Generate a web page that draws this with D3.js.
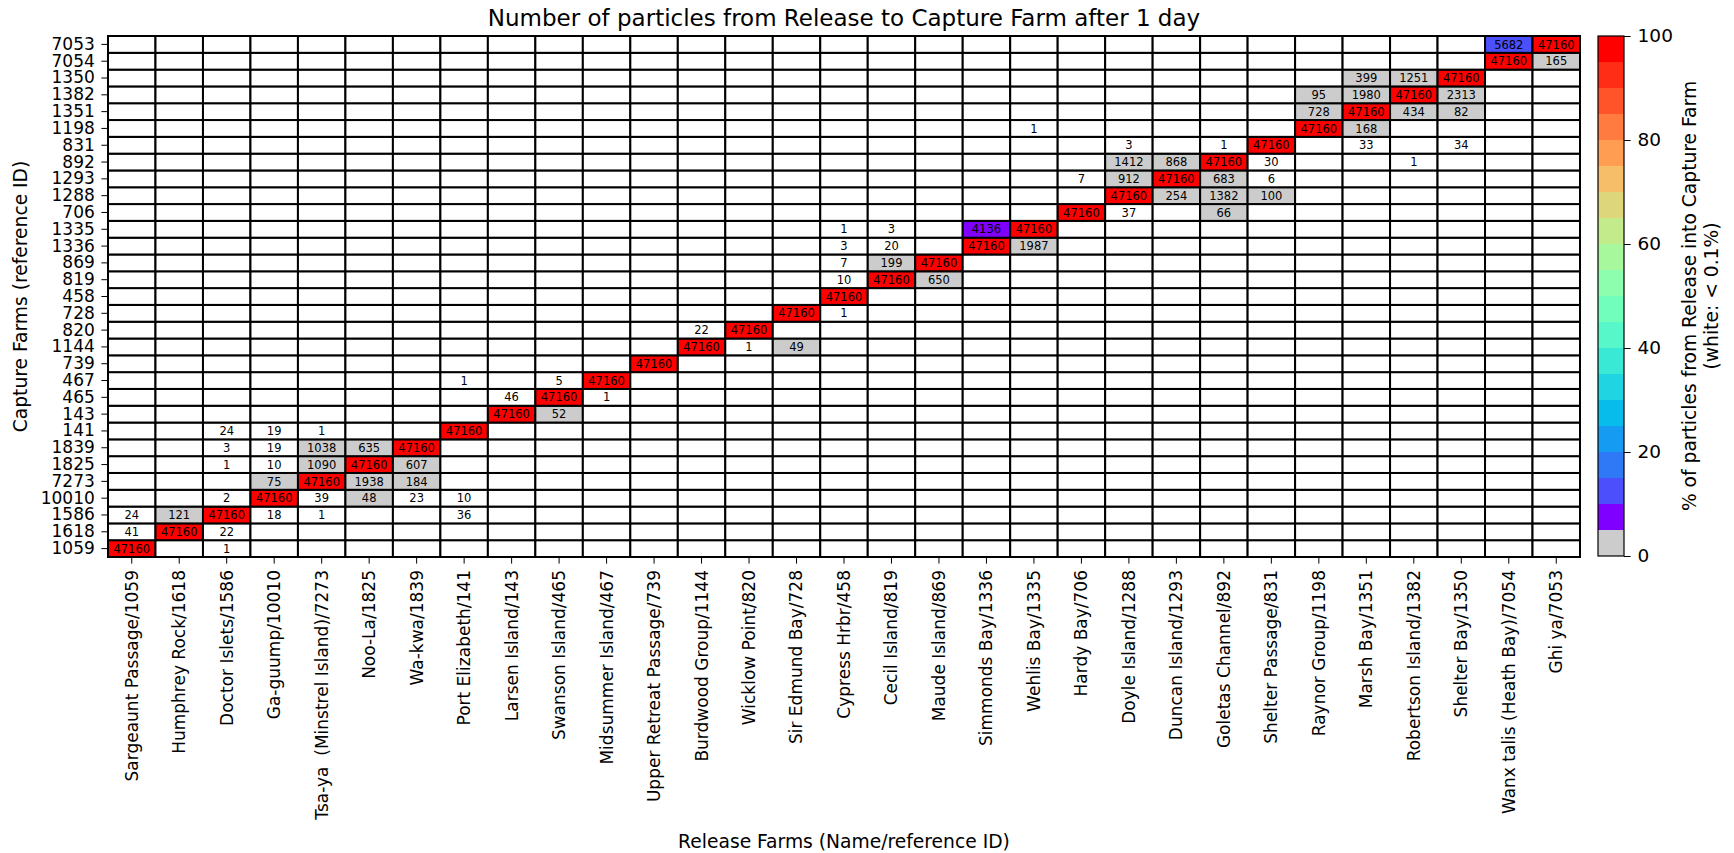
<!DOCTYPE html>
<html>
<head>
<meta charset="utf-8">
<script src="https://cdn.jsdelivr.net/npm/d3@7"></script>
<style>
  body { margin: 0; background: #fff; }
  text { font-family: 'DejaVu Sans', sans-serif; fill: #000; white-space: pre; }
</style>
</head>
<body>
<div id="graf"></div>
<script>
// I. Datos
releaseFarms = [
  'Sargeaunt Passage/1059', 'Humphrey Rock/1618', 'Doctor Islets/1586', 'Ga-guump/10010',
  'Tsa-ya  (Minstrel Island)/7273', 'Noo-La/1825', 'Wa-kwa/1839', 'Port Elizabeth/141',
  'Larsen Island/143', 'Swanson Island/465', 'Midsummer Island/467', 'Upper Retreat Passage/739',
  'Burdwood Group/1144', 'Wicklow Point/820', 'Sir Edmund Bay/728', 'Cypress Hrbr/458',
  'Cecil Island/819', 'Maude Island/869', 'Simmonds Bay/1336', 'Wehlis Bay/1335',
  'Hardy Bay/706', 'Doyle Island/1288', 'Duncan Island/1293', 'Goletas Channel/892',
  'Shelter Passage/831', 'Raynor Group/1198', 'Marsh Bay/1351', 'Robertson Island/1382',
  'Shelter Bay/1350', 'Wanx talis (Heath Bay)/7054', 'Ghi ya/7053'
]

// de abajo hacia arriba
captureFarms = ['1059', '1618', '1586', '10010', '7273', '1825', '1839', '141', '143', '465',
  '467', '739', '1144', '820', '728', '458', '819', '869', '1336', '1335', '706', '1288',
  '1293', '892', '831', '1198', '1351', '1382', '1350', '7054', '7053']

totalReleased = 47160

// [capture farm, release column, particles]
counts = [
  ['7053', 29, 5682], ['7053', 30, 47160],
  ['7054', 29, 47160], ['7054', 30, 165],
  ['1350', 26, 399], ['1350', 27, 1251], ['1350', 28, 47160],
  ['1382', 25, 95], ['1382', 26, 1980], ['1382', 27, 47160], ['1382', 28, 2313],
  ['1351', 25, 728], ['1351', 26, 47160], ['1351', 27, 434], ['1351', 28, 82],
  ['1198', 19, 1], ['1198', 25, 47160], ['1198', 26, 168],
  ['831', 21, 3], ['831', 23, 1], ['831', 24, 47160], ['831', 26, 33], ['831', 28, 34],
  ['892', 21, 1412], ['892', 22, 868], ['892', 23, 47160], ['892', 24, 30], ['892', 27, 1],
  ['1293', 20, 7], ['1293', 21, 912], ['1293', 22, 47160], ['1293', 23, 683], ['1293', 24, 6],
  ['1288', 21, 47160], ['1288', 22, 254], ['1288', 23, 1382], ['1288', 24, 100],
  ['706', 20, 47160], ['706', 21, 37], ['706', 23, 66],
  ['1335', 15, 1], ['1335', 16, 3], ['1335', 18, 4136], ['1335', 19, 47160],
  ['1336', 15, 3], ['1336', 16, 20], ['1336', 18, 47160], ['1336', 19, 1987],
  ['869', 15, 7], ['869', 16, 199], ['869', 17, 47160],
  ['819', 15, 10], ['819', 16, 47160], ['819', 17, 650],
  ['458', 15, 47160],
  ['728', 14, 47160], ['728', 15, 1],
  ['820', 12, 22], ['820', 13, 47160],
  ['1144', 12, 47160], ['1144', 13, 1], ['1144', 14, 49],
  ['739', 11, 47160],
  ['467', 7, 1], ['467', 9, 5], ['467', 10, 47160],
  ['465', 8, 46], ['465', 9, 47160], ['465', 10, 1],
  ['143', 8, 47160], ['143', 9, 52],
  ['141', 2, 24], ['141', 3, 19], ['141', 4, 1], ['141', 7, 47160],
  ['1839', 2, 3], ['1839', 3, 19], ['1839', 4, 1038], ['1839', 5, 635], ['1839', 6, 47160],
  ['1825', 2, 1], ['1825', 3, 10], ['1825', 4, 1090], ['1825', 5, 47160], ['1825', 6, 607],
  ['7273', 3, 75], ['7273', 4, 47160], ['7273', 5, 1938], ['7273', 6, 184],
  ['10010', 2, 2], ['10010', 3, 47160], ['10010', 4, 39], ['10010', 5, 48], ['10010', 6, 23], ['10010', 7, 10],
  ['1586', 0, 24], ['1586', 1, 121], ['1586', 2, 47160], ['1586', 3, 18], ['1586', 4, 1], ['1586', 7, 36],
  ['1618', 0, 41], ['1618', 1, 47160], ['1618', 2, 22],
  ['1059', 0, 47160], ['1059', 2, 1]
]

binEdges = [0, 5, 10, 15, 20, 25, 30, 35, 40, 45, 50, 55, 60, 65, 70, 75, 80, 85, 90, 95, 100]
binColors = ['#cccccc', '#8000ff', '#4b50fc', '#2f79f7', '#159bf2', '#07bbea', '#21d4e1',
  '#3ae8d6', '#57f7ca', '#71febc', '#8cfead', '#a7f89d', '#c3ea8b', '#ddd67a', '#f6be68',
  '#ff9d53', '#ff7b40', '#ff532a', '#ff2c16', '#ff0000']
colorbarTicks = [0, 20, 40, 60, 80, 100]
whiteBelow = 0.1   // %

// II. Configuración
ancho_total = 1734
alto_total = 853
margins = { top: 36, left: 108, right: 154, bottom: 296 }
ancho = ancho_total - margins.left - margins.right
alto = alto_total - margins.top - margins.bottom

svg = d3.select('#graf').append('svg')
  .attr('width', ancho_total)
  .attr('height', alto_total)

g = svg.append('g')
  .attr('transform', `translate(${margins.left},${margins.top})`)

x = d3.scaleBand().domain(releaseFarms).range([0, ancho])
y = d3.scaleBand().domain(captureFarms.slice().reverse()).range([0, alto])

color = d3.scaleThreshold().domain(binEdges.slice(1, -1)).range(binColors)

// matriz completa (ceros incluidos)
lookup = new Map(counts.map(d => [d[0] + '|' + d[1], d[2]]))
cells = []
captureFarms.forEach(c => {
  releaseFarms.forEach((r, i) => {
    v = lookup.get(c + '|' + i) || 0
    cells.push({ capture: c, release: r, value: v, pct: v / totalReleased * 100 })
  })
})

// III. Celdas
g.selectAll('rect.cell')
  .data(cells)
  .enter()
  .append('rect')
  .attr('class', 'cell')
  .attr('x', d => x(d.release))
  .attr('y', d => y(d.capture))
  .attr('width', x.bandwidth())
  .attr('height', y.bandwidth())
  .attr('fill', d => d.pct < whiteBelow ? '#ffffff' : color(d.pct))
  .attr('stroke', '#000')
  .attr('stroke-width', 2)

g.selectAll('text.num')
  .data(cells.filter(d => d.value > 0))
  .enter()
  .append('text')
  .attr('class', 'num')
  .attr('x', d => x(d.release) + x.bandwidth() / 2)
  .attr('y', d => y(d.capture) + y.bandwidth() / 2)
  .attr('dy', '0.36em')
  .attr('text-anchor', 'middle')
  .attr('font-size', '11.5px')
  .text(d => d.value)

g.append('rect')
  .attr('width', ancho)
  .attr('height', alto)
  .attr('fill', 'none')
  .attr('stroke', '#000')
  .attr('stroke-width', 1.5)

// EJES
yAxis = d3.axisLeft(y).tickSize(6.6).tickPadding(6.6)
g.append('g')
  .call(yAxis)
  .call(s => s.select('.domain').remove())
  .call(s => s.selectAll('text').attr('font-size', '17px').attr('font-family', 'DejaVu Sans'))

xAxis = d3.axisBottom(x).tickSize(6.6)
g.append('g')
  .attr('transform', `translate(0,${alto})`)
  .call(xAxis)
  .call(s => s.select('.domain').remove())
  .selectAll('text')
    .attr('font-size', '17px')
    .attr('font-family', 'DejaVu Sans')
    .attr('transform', 'rotate(-90)')
    .attr('text-anchor', 'end')
    .attr('x', -13)
    .attr('y', 0)
    .attr('dy', '0.35em')

svg.append('text')
  .attr('x', margins.left + ancho / 2)
  .attr('y', 26)
  .attr('text-anchor', 'middle')
  .attr('font-size', '23px')
  .text('Number of particles from Release to Capture Farm after 1 day')

svg.append('text')
  .attr('x', margins.left + ancho / 2)
  .attr('y', 848)
  .attr('text-anchor', 'middle')
  .attr('font-size', '18.7px')
  .text('Release Farms (Name/reference ID)')

svg.append('text')
  .attr('transform', `translate(27,${margins.top + alto / 2}) rotate(-90)`)
  .attr('text-anchor', 'middle')
  .attr('font-size', '18.7px')
  .text('Capture Farms (reference ID)')

// BARRA DE COLOR
cbX = 1598
cbW = 26
cbY = d3.scaleLinear().domain([0, 100]).range([556, 36])
cb = svg.append('g')

cb.selectAll('rect')
  .data(binColors)
  .enter()
  .append('rect')
  .attr('x', cbX)
  .attr('width', cbW)
  .attr('y', (c, i) => cbY(binEdges[i + 1]))
  .attr('height', (c, i) => cbY(binEdges[i]) - cbY(binEdges[i + 1]))
  .attr('fill', c => c)

cb.append('rect')
  .attr('x', cbX)
  .attr('y', cbY(100))
  .attr('width', cbW)
  .attr('height', cbY(0) - cbY(100))
  .attr('fill', 'none')
  .attr('stroke', '#000')
  .attr('stroke-width', 1.2)

cb.append('g')
  .attr('transform', `translate(${cbX + cbW},0)`)
  .call(d3.axisRight(cbY).tickValues(colorbarTicks).tickSize(6.6).tickPadding(7))
  .call(s => s.select('.domain').remove())
  .call(s => s.selectAll('text').attr('font-size', '18.5px').attr('font-family', 'DejaVu Sans'))

cbLabel = svg.append('text')
  .attr('transform', `translate(1695.5,${cbY(50)}) rotate(-90)`)
  .attr('text-anchor', 'middle')
  .attr('font-size', '18.7px')
cbLabel.append('tspan').attr('x', 0).attr('y', 0).text('% of particles from Release into Capture Farm')
cbLabel.append('tspan').attr('x', 0).attr('y', 22.4).text('(white: < 0.1%)')
</script>
</body>
</html>
